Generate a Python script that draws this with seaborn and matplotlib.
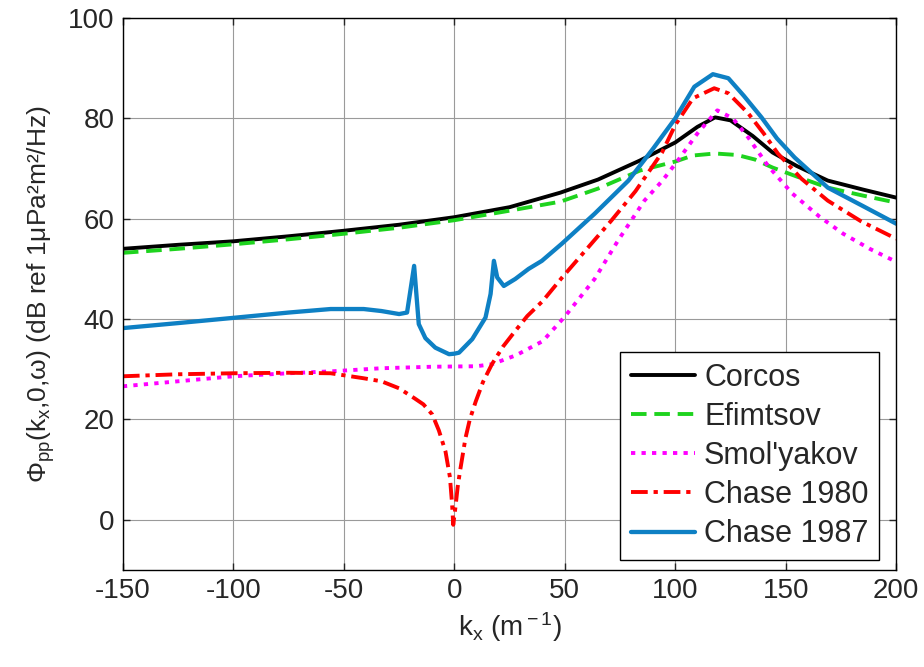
import numpy as np
import pandas as pd
import matplotlib
matplotlib.use('Agg')
import matplotlib.pyplot as plt
import seaborn as sns

# wavenumber k_x (1/m) and spectrum level (dB)
corcos_k = [-150, -125, -100, -75, -50, -25, 0, 25, 48, 65, 84, 100, 110, 118, 125, 135, 144, 155, 169, 185, 200]
corcos_db = [54.0, 54.8, 55.5, 56.5, 57.6, 58.8, 60.3, 62.3, 65.2, 67.8, 71.6, 75.2, 78.3, 80.2, 79.6, 76.5, 73.2, 70.5, 67.6, 65.8, 64.2]

efim_k = [-150, -125, -100, -75, -50, -25, 0, 25, 48, 65, 84, 100, 108, 118, 128, 136, 144, 155, 169, 185, 200]
efim_db = [53.2, 54.0, 54.9, 55.9, 57.0, 58.2, 59.7, 61.6, 63.4, 66.0, 69.6, 71.4, 72.6, 73.0, 72.7, 71.8, 70.2, 68.4, 66.2, 64.6, 63.2]

smol_k = [-150, -125, -100, -75, -55, -33, -10, 10, 17, 28, 40, 50, 63.5, 74, 86, 94, 101, 110, 119, 126, 133, 142, 153, 165, 176, 188, 200]
smol_db = [26.6, 27.6, 28.6, 29.2, 29.6, 30.2, 30.5, 30.6, 31.0, 32.8, 35.6, 40.5, 48.0, 55.6, 63.6, 67.5, 71.5, 77.0, 81.6, 80.0, 76.2, 70.5, 65.0, 60.5, 57.0, 54.0, 51.4]

ch80_k = [-150, -125, -100, -75, -56, -41, -33, -25, -18, -14, -10, -7, -4, -2, -1, -0.5, 0.5, 1.5, 2.5, 4, 5, 7, 9.7, 13, 17, 22, 27.5, 33, 40, 48.6, 60, 71, 82, 94, 100, 108, 117.6, 124, 133, 140, 146.4, 157, 169, 184, 200]
ch80_db = [28.6, 29.0, 29.2, 29.3, 29.2, 28.2, 27.6, 26.2, 24.2, 23.0, 21.0, 17.8, 13.6, 8.5, 3.0, -1.0, 2.5, 6.5, 9.5, 13.5, 16.2, 20.0, 23.6, 27.5, 31.0, 34.5, 37.6, 40.6, 43.6, 48.2, 54.0, 59.6, 65.5, 73.2, 78.7, 84.0, 86.0, 85.0, 81.0, 77.0, 73.0, 68.0, 63.6, 59.5, 56.0]

ch87_k = [-150, -125, -101, -75, -56, -41, -33, -25, -21.4, -18.2, -16.1, -13.1, -8.6, -2.4, 0, 2.1, 8.1, 14.1, 16.4, 17.9, 19.4, 22.4, 27.6, 33.6, 39.6, 48.6, 63.5, 78.8, 90, 100, 108.6, 117, 124, 131, 139, 146, 154, 169, 185, 200]
ch87_db = [38.2, 39.2, 40.2, 41.3, 42.0, 42.0, 41.6, 41.0, 41.3, 50.6, 39.0, 36.2, 34.3, 33.0, 33.1, 33.3, 36.0, 40.3, 45.0, 51.6, 48.3, 46.6, 48.0, 50.0, 51.6, 55.0, 61.0, 67.6, 74.0, 80.0, 86.3, 88.8, 88.0, 84.5, 80.2, 76.0, 72.2, 66.2, 62.5, 59.0]

labels = ['Corcos', 'Efimtsov', "Smol'yakov", 'Chase 1980', 'Chase 1987']

sns.set_style('ticks')
plt.rcParams['font.family'] = ['Liberation Sans', 'DejaVu Sans']
plt.rcParams['mathtext.fontset'] = 'custom'
plt.rcParams['mathtext.rm'] = 'Liberation Sans'
plt.rcParams['mathtext.it'] = 'Liberation Sans'
plt.rcParams['mathtext.sf'] = 'Liberation Sans'
plt.rcParams['axes.unicode_minus'] = False

fig = plt.figure(figsize=(9.24, 6.67), dpi=100)
ax = fig.add_axes([0.133, 0.1455, 0.837, 0.8275])

series = [
    (corcos_k, corcos_db, 'black', '-', 2.8, None),
    (efim_k, efim_db, '#1ed31e', '--', 2.8, (4.0, 2.0)),
    (smol_k, smol_db, '#ff00ff', ':', 2.8, (1.1, 1.6)),
    (ch80_k, ch80_db, '#ff0000', '-.', 2.8, (4.3, 1.5, 1.1, 1.5)),
    (ch87_k, ch87_db, '#0e80c4', '-', 3.1, None),
]
for (k, db, col, ls, lw, dash), lab in zip(series, labels):
    df = pd.DataFrame({'k': k, 'db': db})
    sns.lineplot(data=df, x='k', y='db', ax=ax, color=col, linestyle=ls, lw=lw, label=lab)
    if dash is not None:
        ax.lines[-1].set_dashes(dash)

ax.set_xlim(-150, 200)
ax.set_ylim(-10, 100)
ax.set_xticks(np.arange(-150, 201, 50))
ax.set_yticks(np.arange(0, 101, 20))
ax.grid(True, color='#9a9a9a', lw=0.8)
ax.tick_params(direction='in', top=True, right=True, labelsize=20, length=5, width=1, pad=6)
for s in ax.spines.values():
    s.set_color('black')
    s.set_linewidth(1.0)

ax.set_xlabel(r'k$_{\rm x}$ (m$^{\rm -1}$)', fontsize=20, labelpad=4)
ax.set_ylabel(r'$\Phi_{\rm pp}$(k$_{\rm x}$,0,$\omega$) (dB ref 1$\mu$Pa²m²/Hz)', fontsize=19, labelpad=8)

leg = ax.legend(loc='lower right', bbox_to_anchor=(0.978, 0.018), borderaxespad=0,
                fontsize=22, handlelength=2.1, handletextpad=0.3, labelspacing=0.3,
                borderpad=0.35, fancybox=False, framealpha=1, edgecolor='black')
leg.get_frame().set_linewidth(1.0)

fig.savefig('out.png', dpi=100)
